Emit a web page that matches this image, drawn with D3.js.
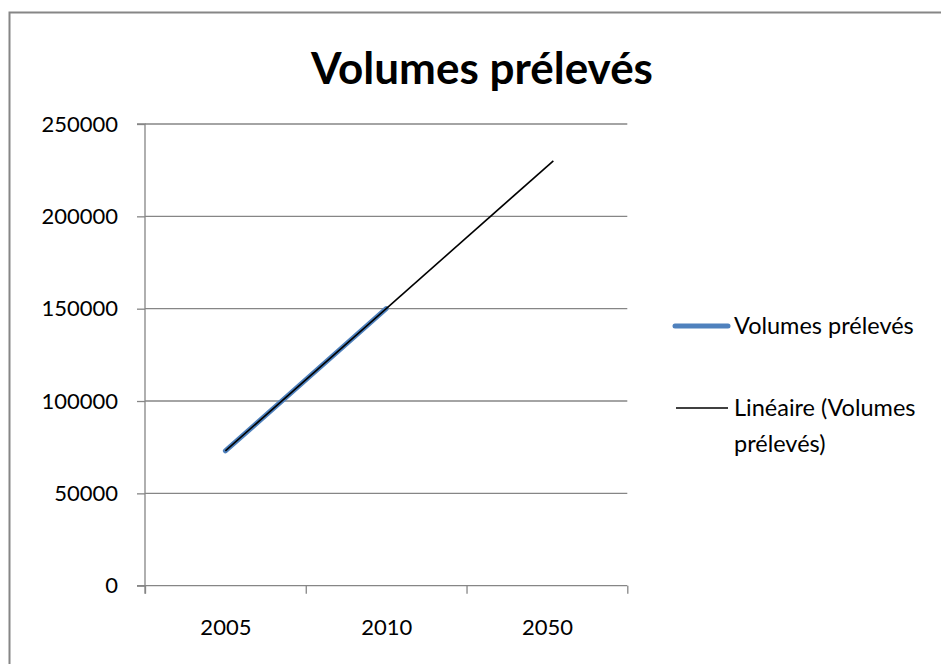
<!DOCTYPE html>
<html>
<head>
<meta charset="utf-8">
<script src="https://cdn.jsdelivr.net/npm/d3@7/dist/d3.min.js"></script>
<style>
  html, body { margin: 0; padding: 0; background: #fff; }
  svg { display: block; }
  text { font-family: Lato, "Open Sans", sans-serif; fill: #000; }
</style>
</head>
<body>
<svg id="chart" width="941" height="664"></svg>
<script>
// ---- data ----
const categories = ["2005", "2010", "2050"];
const volumes = [73000, 150000, null];
const yTicks = [0, 50000, 100000, 150000, 200000, 250000];
const seriesName = "Volumes prélevés";
const trendName = ["Linéaire (Volumes", "prélevés)"];
const title = "Volumes prélevés";
const trendForward = 1.04; // forecast forward (periods)

// ---- layout ----
const W = 941, H = 664;
const pL = 145, pR = 627.3, pT = 124, pB = 585.7;
const grey = "#868686";

const svg = d3.select("#chart");

// chart border
svg.append("path")
  .attr("d", `M9.5,${H + 5} V12.5 H${W + 5}`)
  .attr("fill", "none").attr("stroke", grey).attr("stroke-width", 2);

// title
svg.append("text")
  .attr("x", 482).attr("y", 84)
  .attr("text-anchor", "middle")
  .attr("font-size", 44).attr("font-weight", "bold")
  .text(title);

// scales
const xi = d3.scaleLinear().domain([0, categories.length]).range([pL, pR]);
const y = d3.scaleLinear().domain([0, 250000]).range([pB, pT]);

// gridlines
svg.append("g").selectAll("line")
  .data(yTicks.filter(d => d > 0))
  .join("line")
  .attr("x1", pL).attr("x2", pR)
  .attr("y1", d => y(d)).attr("y2", d => y(d))
  .attr("stroke", grey).attr("stroke-width", 1.3);

// y axis
const yAxis = svg.append("g")
  .attr("transform", `translate(${pL},0)`)
  .call(d3.axisLeft(y).tickValues(yTicks).tickSize(8).tickPadding(19).tickFormat(d3.format("d")));
yAxis.select(".domain").attr("stroke", grey).attr("stroke-width", 1.3)
  .attr("d", `M-8,${pT}H0V${pB + 8}`);
yAxis.selectAll(".tick line").attr("stroke", grey).attr("stroke-width", 1.3);
yAxis.selectAll(".tick text").attr("font-size", 22).attr("font-family", "Lato, sans-serif").attr("fill", "#000");

// x axis (tick marks at category boundaries)
const xAxis = svg.append("g")
  .attr("transform", `translate(0,${pB})`)
  .call(d3.axisBottom(xi).tickValues(d3.range(categories.length + 1)).tickSize(8).tickFormat(""));
xAxis.select(".domain").attr("stroke", grey).attr("stroke-width", 1.3)
  .attr("d", `M${pL - 8},0H${pR}`);
xAxis.selectAll(".tick line").attr("stroke", grey).attr("stroke-width", 1.3);

// x labels at category centres
const xLab = svg.append("g")
  .attr("transform", `translate(0,${pB})`)
  .call(d3.axisBottom(xi).tickValues(categories.map((c, i) => i + 0.5)).tickSize(0).tickPadding(34)
    .tickFormat((d, i) => categories[i]));
xLab.select(".domain").remove();
xLab.selectAll(".tick text").attr("font-size", 22).attr("font-family", "Lato, sans-serif").attr("fill", "#000");

// series line
const pts = volumes.map((v, i) => ({ i: i + 0.5, v })).filter(d => d.v !== null);
const line = d3.line().x(d => xi(d.i)).y(d => y(d.v));
svg.append("path")
  .datum(pts)
  .attr("d", line)
  .attr("fill", "none").attr("stroke", "#4F81BD").attr("stroke-width", 5)
  .attr("stroke-linecap", "round").attr("stroke-linejoin", "round");

// linear trend (least squares on the series points, x = 1..n)
const xs = pts.map(d => d.i + 0.5);
const ys = pts.map(d => d.v);
const mx = d3.mean(xs), my = d3.mean(ys);
const slope = d3.sum(xs.map((x, k) => (x - mx) * (ys[k] - my))) / d3.sum(xs.map(x => (x - mx) ** 2));
const icpt = my - slope * mx;
const x0 = d3.min(xs), x1 = d3.max(xs) + trendForward;
const trend = [x0, x1].map(x => ({ i: x - 0.5, v: icpt + slope * x }));
svg.append("path")
  .datum(trend)
  .attr("d", line)
  .attr("fill", "none").attr("stroke", "#000").attr("stroke-width", 1.6);

// legend
const lg = svg.append("g");
lg.append("line").attr("x1", 675).attr("x2", 728).attr("y1", 326).attr("y2", 326)
  .attr("stroke", "#4F81BD").attr("stroke-width", 5).attr("stroke-linecap", "round");
lg.append("text").attr("x", 734).attr("y", 334).attr("font-size", 23.5).text(seriesName);
lg.append("line").attr("x1", 676).attr("x2", 728).attr("y1", 408).attr("y2", 408)
  .attr("stroke", "#000").attr("stroke-width", 1.6);
lg.append("text").attr("x", 734).attr("y", 416).attr("font-size", 23.5).text(trendName[0]);
lg.append("text").attr("x", 734).attr("y", 452).attr("font-size", 23.5).text(trendName[1]);
</script>
</body>
</html>
